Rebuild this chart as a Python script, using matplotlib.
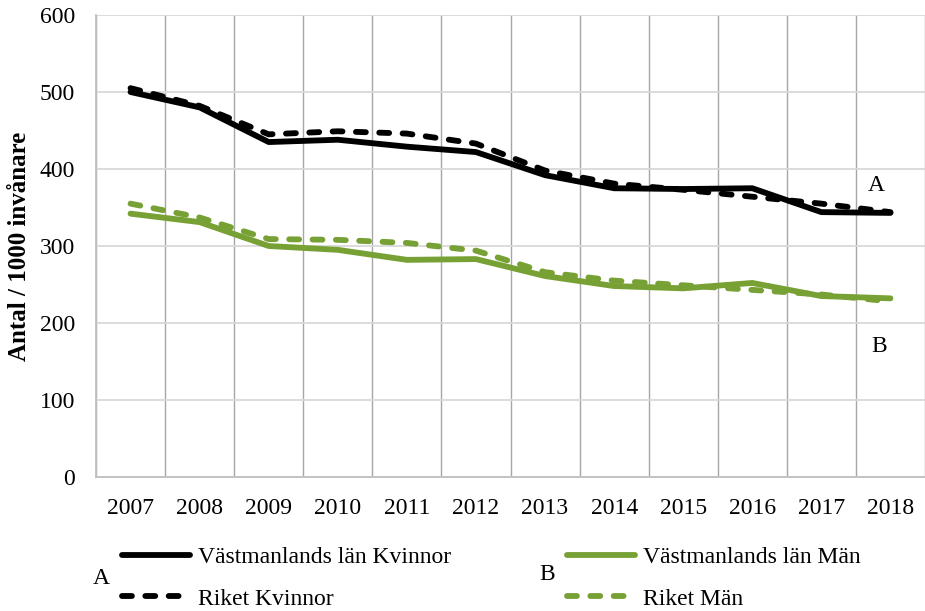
import matplotlib
matplotlib.use("Agg")
import matplotlib.pyplot as plt
from matplotlib.lines import Line2D
import numpy as np

years = ["2007", "2008", "2009", "2010", "2011", "2012", "2013", "2014", "2015", "2016", "2017", "2018"]
vl_kvinnor = [500, 480, 435, 438, 429, 422, 392, 375, 374, 375, 344, 343]
riket_kvinnor = [505, 482, 445, 449, 446, 433, 398, 381, 373, 364, 355, 344]
vl_man = [342, 331, 300, 295, 282, 283, 261, 248, 245, 252, 235, 232]
riket_man = [355, 337, 309, 308, 304, 294, 266, 255, 249, 243, 237, 228]
yticks = [0, 100, 200, 300, 400, 500, 600]

plt.rcParams['font.family'] = ['Liberation Serif', 'DejaVu Serif']

black = '#000000'
green = '#77a135'
LW = 4.2
dash = (1.7, 2.3)
FS = 17

fig = plt.figure(figsize=(9.25, 6.11), dpi=100)
ax = fig.add_axes([96/925, 1 - 477/611, 1 - 96/925, (477 - 15)/611])

x = np.arange(len(years))
ax.plot(x, vl_kvinnor, color=black, lw=LW, solid_capstyle='round', solid_joinstyle='round', zorder=3)
ax.plot(x, riket_kvinnor, color=black, lw=LW, dashes=dash, dash_capstyle='round', zorder=3)
ax.plot(x, vl_man, color=green, lw=LW, solid_capstyle='round', solid_joinstyle='round', zorder=3)
ax.plot(x, riket_man, color=green, lw=LW, dashes=dash, dash_capstyle='round', zorder=3)

ax.set_xlim(-0.5, len(years) - 0.5)
ax.set_ylim(0, 600)
ax.set_yticks(yticks)
ax.set_xticks(x)
ax.set_xticklabels(years)
ax.set_xticks(np.arange(-0.5, len(years), 1.0), minor=True)
ax.tick_params(axis='both', which='both', length=0, labelsize=FS)
ax.tick_params(axis='x', pad=15)
ax.tick_params(axis='y', pad=15)
ax.grid(axis='y', which='major', color='#d9d9d9', lw=1.3, zorder=0)
ax.grid(axis='x', which='minor', color='#a6a6a6', lw=1.0, zorder=0)
ax.grid(axis='x', which='major', visible=False)
for s in ['top', 'right']:
    ax.spines[s].set_visible(False)
for s in ['left', 'bottom']:
    ax.spines[s].set_color('#bfbfbf')
    ax.spines[s].set_linewidth(1.3)

ax.set_ylabel("Antal / 1000 invånare", fontsize=18, fontweight='bold', labelpad=6)

ax.text(10.79, 379, "A", fontsize=FS, ha='center', va='center')
ax.text(10.84, 169, "B", fontsize=FS, ha='center', va='center')

hA = [Line2D([], [], color=black, lw=LW, solid_capstyle='round'),
      Line2D([], [], color=black, lw=LW, dashes=dash, dash_capstyle='round')]
hB = [Line2D([], [], color=green, lw=LW, solid_capstyle='round'),
      Line2D([], [], color=green, lw=LW, dashes=dash, dash_capstyle='round')]
common = dict(loc='center left', frameon=False, fontsize=FS, handlelength=2.9,
              handletextpad=0.3, labelspacing=0.85, borderaxespad=0, borderpad=0)
legA = fig.legend(hA, ["Västmanlands län Kvinnor", "Riket Kvinnor"],
                  bbox_to_anchor=(122/925, 1 - 578/611), **common)
legB = fig.legend(hB, ["Västmanlands län Män", "Riket Män"],
                  bbox_to_anchor=(567/925, 1 - 578/611), **common)
fig.text(101/925, 1 - 579/611, "A", fontsize=FS, ha='center', va='center')
fig.text(547/925, 1 - 575/611, "B", fontsize=FS, ha='center', va='center')

fig.savefig("out.png", dpi=100)
